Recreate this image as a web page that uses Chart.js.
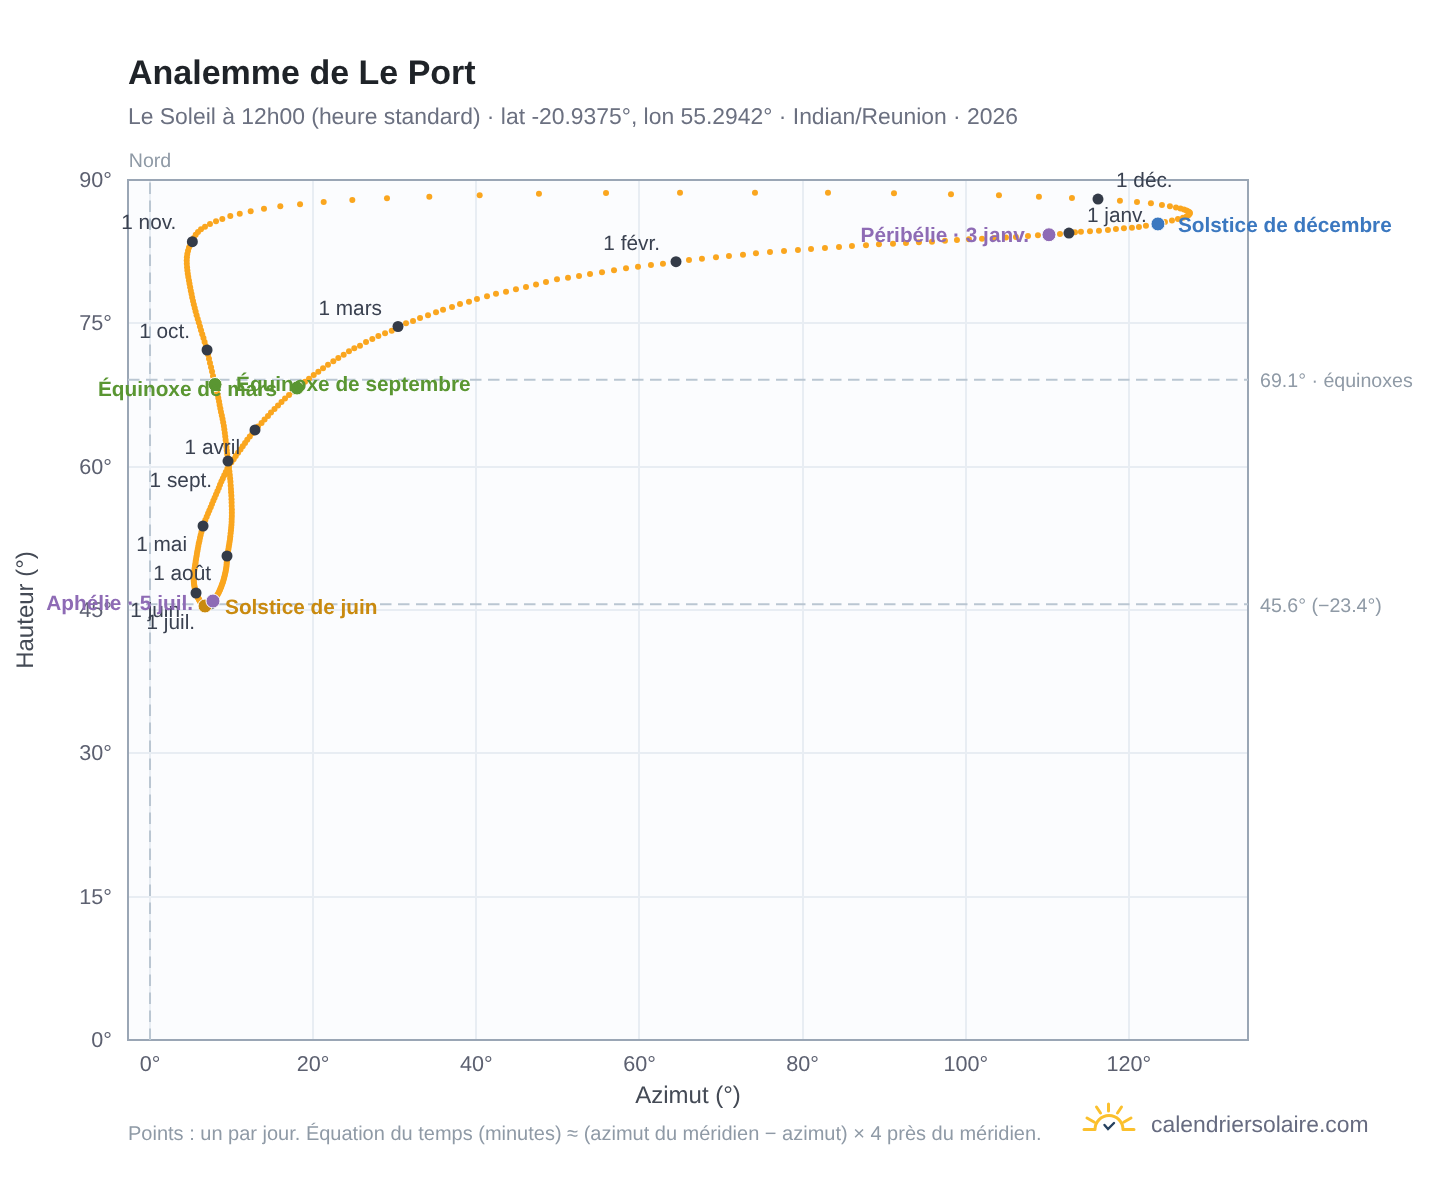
<!DOCTYPE html>
<html lang="fr">
<head>
<meta charset="utf-8">
<title>Analemme de Le Port</title>
<style>html,body{margin:0;padding:0;background:#fff}canvas{display:block}#wrap{width:1448px;height:1188px;position:relative}</style>
<script src="https://cdn.jsdelivr.net/npm/chart.js@4/dist/chart.umd.min.js"></script>
</head>
<body>
<div id="wrap"><canvas id="c" width="1448" height="1188"></canvas></div>
<script>
// Azimuth (deg), one value per day of 2026, Jan 1 to Dec 31
const azimuth = [
112.65,111.55,110.20,108.85,107.63,106.15,104.93,103.46,101.99,100.39,98.92,97.45,95.86,94.26,92.67,91.08,89.36,87.77,86.05,84.46,82.74,81.03,79.43,77.72,76.00,74.28,72.69,70.97,69.38,67.66,66.07,
64.48,62.88,61.41,59.82,58.35,56.88,55.41,53.94,52.59,51.24,49.89,48.54,47.32,46.09,44.86,43.64,42.41,41.31,40.08,39.10,38.00,37.02,35.92,35.06,34.08,33.10,32.24,31.38,
30.40,29.63,28.81,27.99,27.25,26.48,25.74,25.04,24.39,23.74,23.08,22.47,21.82,21.21,20.63,20.07,19.49,19.00,18.51,18.02,17.53,17.04,16.55,16.12,15.69,15.26,14.83,14.46,14.04,13.67,13.24,
12.87,12.54,12.23,11.92,11.65,11.36,11.09,10.79,10.51,10.25,9.97,9.68,9.48,9.29,9.10,8.92,8.75,8.58,8.43,8.26,8.09,7.92,7.76,7.60,7.44,7.27,7.11,6.95,6.78,6.62,
6.50,6.40,6.30,6.21,6.13,6.06,5.98,5.92,5.86,5.80,5.75,5.70,5.65,5.60,5.57,5.52,5.48,5.44,5.41,5.38,5.37,5.36,5.36,5.37,5.39,5.42,5.45,5.49,5.53,5.57,5.60,
5.64,5.69,5.74,5.79,5.83,5.88,5.93,5.98,6.03,6.08,6.13,6.18,6.24,6.30,6.36,6.42,6.48,6.55,6.61,6.67,6.74,6.82,6.89,6.96,7.04,7.11,7.18,7.26,7.33,7.40,
7.48,7.54,7.60,7.66,7.72,7.82,7.92,8.02,8.11,8.21,8.31,8.41,8.49,8.58,8.65,8.73,8.80,8.87,8.95,9.01,9.07,9.13,9.19,9.24,9.29,9.33,9.37,9.39,9.41,9.43,9.44,
9.44,9.50,9.56,9.61,9.66,9.71,9.76,9.81,9.84,9.88,9.92,9.95,9.98,10.00,10.01,10.03,10.03,10.03,10.01,10.00,9.99,9.97,9.94,9.92,9.89,9.86,9.82,9.78,9.73,9.68,9.62,
9.56,9.51,9.46,9.41,9.37,9.32,9.27,9.22,9.17,9.11,9.05,8.97,8.89,8.80,8.70,8.62,8.53,8.46,8.37,8.29,8.19,8.09,7.97,7.85,7.72,7.60,7.48,7.35,7.23,7.11,
6.99,6.84,6.69,6.55,6.40,6.25,6.12,5.98,5.85,5.71,5.59,5.48,5.37,5.27,5.17,5.09,5.00,4.92,4.84,4.77,4.69,4.63,4.58,4.54,4.51,4.50,4.52,4.57,4.66,4.78,4.95,
5.19,5.36,5.60,5.88,6.25,6.74,7.35,8.09,8.86,9.84,11.00,12.34,13.97,15.97,18.39,21.29,24.80,29.05,34.24,40.41,47.68,55.90,64.97,74.16,83.11,91.20,98.19,104.07,108.97,113.02,
116.21,118.90,120.99,122.70,124.05,125.03,125.77,126.32,126.75,127.06,127.28,127.42,127.48,127.43,127.30,127.06,126.63,126.01,125.28,124.42,123.56,122.09,121.23,120.37,119.39,118.41,117.43,116.33,115.23,114.12,113.39
];
// Altitude (deg), same days
const altitude = [
84.45,84.35,84.27,84.21,84.14,84.03,83.98,83.93,83.86,83.79,83.72,83.65,83.54,83.48,83.41,83.33,83.27,83.17,83.09,82.99,82.88,82.78,82.67,82.57,82.46,82.33,82.18,82.05,81.91,81.76,81.63,
81.45,81.24,81.10,80.93,80.76,80.55,80.34,80.16,79.95,79.77,79.61,79.32,79.06,78.80,78.57,78.31,78.10,77.83,77.55,77.26,77.02,76.71,76.43,76.15,75.84,75.56,75.24,75.00,
74.67,74.23,73.96,73.67,73.36,73.05,72.66,72.39,72.07,71.72,71.37,71.03,70.67,70.29,69.94,69.59,69.20,68.89,68.55,68.23,67.87,67.50,67.13,66.77,66.40,66.03,65.67,65.30,64.93,64.57,64.20,
63.84,63.49,63.16,62.81,62.48,62.14,61.80,61.46,61.12,60.78,60.45,60.11,59.78,59.44,59.11,58.77,58.44,58.10,57.77,57.43,57.10,56.76,56.43,56.09,55.76,55.42,55.09,54.75,54.42,54.10,
53.79,53.48,53.16,52.85,52.55,52.26,51.98,51.70,51.42,51.14,50.88,50.62,50.37,50.13,49.89,49.65,49.42,49.19,48.97,48.75,48.54,48.34,48.14,47.95,47.77,47.61,47.44,47.28,47.13,47.00,46.88,
46.78,46.67,46.57,46.47,46.38,46.30,46.21,46.13,46.06,45.98,45.91,45.85,45.78,45.73,45.68,45.63,45.59,45.54,45.50,45.46,45.42,45.42,45.42,45.43,45.44,45.46,45.49,45.52,45.56,45.61,
45.65,45.71,45.77,45.84,45.94,46.05,46.15,46.27,46.39,46.53,46.66,46.81,46.96,47.11,47.27,47.44,47.61,47.78,47.96,48.14,48.33,48.53,48.73,48.92,49.13,49.34,49.56,49.78,50.00,50.21,50.43,
50.65,50.89,51.13,51.38,51.64,51.91,52.18,52.45,52.73,53.02,53.31,53.60,53.90,54.21,54.52,54.84,55.18,55.53,55.88,56.24,56.59,56.96,57.32,57.67,58.04,58.41,58.76,59.13,59.49,59.86,60.22,
60.59,60.96,61.32,61.69,62.06,62.42,62.79,63.16,63.52,63.89,64.26,64.62,64.99,65.35,65.72,66.09,66.45,66.82,67.19,67.55,67.92,68.26,68.60,69.05,69.50,69.95,70.40,70.85,71.30,71.75,
72.21,72.63,73.05,73.46,73.87,74.28,74.68,75.08,75.46,75.85,76.23,76.60,76.97,77.34,77.70,78.07,78.42,78.78,79.14,79.49,79.85,80.19,80.54,80.88,81.23,81.58,81.92,82.26,82.59,82.93,83.23,
83.54,83.93,84.26,84.56,84.84,85.11,85.39,85.68,85.92,86.23,86.47,86.72,87.00,87.25,87.46,87.70,87.91,88.08,88.25,88.40,88.56,88.64,88.67,88.67,88.67,88.61,88.50,88.40,88.25,88.12,
88.01,87.83,87.70,87.56,87.38,87.25,87.12,87.02,86.91,86.81,86.70,86.62,86.55,86.44,86.31,86.19,86.06,85.92,85.76,85.60,85.40,85.22,85.08,85.01,84.94,84.87,84.77,84.69,84.63,84.59,84.52
];
const monthDays = [0,31,59,90,120,151,181,212,243,273,304,334];
const monthLabels = ["1 janv.","1 févr.","1 mars","1 avril","1 mai","1 juin","1 juil.","1 août","1 sept.","1 oct.","1 nov.","1 déc."];
const specialDays = [78,265,171,354,2,185];
const specialLabels = ["Équinoxe de mars","Équinoxe de septembre","Solstice de juin","Solstice de décembre","Péribélie · 3 janv.","Aphélie · 5 juil."];
const refAltitudes = [69.1,45.6];
const refLabels = ["69.1° · équinoxes","45.6° (−23.4°)"];
const xTickStep = 20, yTickStep = 15;

const X_MIN = -2.7, X_MAX = 134.6;
const COLORS = {sun:"#faa61f",dark:"#343b48",green:"#5a9632",blue:"#3b78c0",gold:"#c98a0f",purple:"#8e6bb5",
  grid:"#e8edf3",frame:"#9aa6b5",dash:"#bac6d2",plot:"#fbfcfe",tick:"#5c6070",label:"#3a4150",muted:"#8f9aa6"};
const specialColors = [COLORS.green,COLORS.green,COLORS.gold,COLORS.blue,COLORS.purple,COLORS.purple];
const FONT = '"Liberation Sans", Arial, sans-serif';
// label placement relative to its mark: [dx, dy, align]
const monthOffsets = [[18,-17,"left"],[-16,-17,"right"],[-16,-17,"right"],[-15,18,"right"],[-16,19,"right"],[-16,18,"right"],[-16,19,"right"],[-16,18,"right"],[-16,20,"right"],[-17,-18,"right"],[-16,-18,"right"],[18,-18,"left"]];
const specialOffsets = [[-20,2,"right"],[21,1,"left"],[20,2,"left"],[20,2,"left"],[-20,2,"right"],[-20,3,"right"]];

const pts = azimuth.map((a,i)=>({x:a,y:altitude[i]}));

const textPlugin = {
  id:"texts",
  beforeDraw(chart){
    const {ctx,chartArea:a} = chart;
    ctx.textRendering="geometricPrecision";
    ctx.save();ctx.fillStyle=COLORS.plot;ctx.fillRect(a.left,a.top,a.width,a.height);ctx.restore();
  },
  beforeDatasetsDraw(chart){
    const {ctx,chartArea:a} = chart;
    ctx.save();ctx.strokeStyle=COLORS.frame;ctx.lineWidth=2;ctx.strokeRect(a.left,a.top,a.width,a.height);ctx.restore();
  },
  afterDatasetsDraw(chart){
    const {ctx,scales:{x,y}} = chart;
    ctx.save();ctx.textBaseline="middle";
    monthDays.forEach((d,i)=>{
      const o=monthOffsets[i];
      ctx.font='20.8px '+FONT;ctx.fillStyle=COLORS.label;ctx.textAlign=o[2];
      ctx.fillText(monthLabels[i],x.getPixelForValue(azimuth[d])+o[0],y.getPixelForValue(altitude[d])+o[1]);
    });
    specialDays.forEach((d,i)=>{
      const o=specialOffsets[i];
      ctx.font='bold 20.8px '+FONT;ctx.fillStyle=specialColors[i];ctx.textAlign=o[2];
      ctx.fillText(specialLabels[i],x.getPixelForValue(azimuth[d])+o[0],y.getPixelForValue(altitude[d])+o[1]);
    });
    ctx.font='19.6px '+FONT;ctx.fillStyle=COLORS.muted;ctx.textAlign="left";
    refAltitudes.forEach((v,i)=>ctx.fillText(refLabels[i],1260,y.getPixelForValue(v)+2));
    ctx.textAlign="center";
    ctx.fillText("Nord",x.getPixelForValue(0),162);
    ctx.textAlign="left";
    ctx.font='20px '+FONT;
    ctx.fillText("Points : un par jour. Équation du temps (minutes) ≈ (azimut du méridien − azimut) × 4 près du méridien.",128,1134);
    ctx.font='22.9px '+FONT;ctx.fillStyle="#666b80";
    ctx.fillText("calendriersolaire.com",1151,1126);
    // logo
    ctx.lineCap="round";ctx.lineWidth=3;ctx.strokeStyle="#fbc02d";
    ctx.beginPath();
    ctx.moveTo(1084,1129.5);ctx.lineTo(1095,1129.5);
    ctx.moveTo(1124,1129.5);ctx.lineTo(1134,1129.5);
    ctx.moveTo(1095,1129.5);ctx.arc(1109,1129.5,14,Math.PI,2*Math.PI);
    ctx.moveTo(1108.5,1104);ctx.lineTo(1108.5,1111);
    ctx.moveTo(1096.5,1107);ctx.lineTo(1100.5,1113);
    ctx.moveTo(1121.5,1107);ctx.lineTo(1117.5,1113);
    ctx.moveTo(1087,1118);ctx.lineTo(1094,1122);
    ctx.moveTo(1131,1118);ctx.lineTo(1124,1122);
    ctx.stroke();
    ctx.strokeStyle="#26415f";ctx.lineWidth=2.4;
    ctx.beginPath();ctx.moveTo(1104.5,1125);ctx.lineTo(1108,1129);ctx.lineTo(1114,1123);ctx.stroke();
    ctx.restore();
  }
};

new Chart(document.getElementById("c"),{
  type:"scatter",
  data:{datasets:[
    {label:"Repère nord",data:[{x:0,y:0},{x:0,y:90}],showLine:true,borderColor:COLORS.dash,borderWidth:2,borderDash:[11.5,6.5],pointRadius:0,order:9},
    {label:"Équinoxes",data:[{x:X_MIN,y:refAltitudes[0]},{x:X_MAX,y:refAltitudes[0]}],showLine:true,borderColor:COLORS.dash,borderWidth:2,borderDash:[11.5,6.5],pointRadius:0,order:8},
    {label:"Solstice",data:[{x:X_MIN,y:refAltitudes[1]},{x:X_MAX,y:refAltitudes[1]}],showLine:true,borderColor:COLORS.dash,borderWidth:2,borderDash:[11.5,6.5],pointRadius:0,order:7},
    {label:"Analemme",data:pts,pointRadius:3,pointBackgroundColor:COLORS.sun,pointBorderWidth:0,clip:false,order:5},
    {label:"1er du mois",data:monthDays.map(d=>pts[d]),pointRadius:5.5,pointBackgroundColor:COLORS.dark,pointBorderWidth:0,clip:false,order:3},
    {label:"Repères",data:specialDays.map(d=>pts[d]),pointRadius:7,pointBackgroundColor:specialColors,pointBorderColor:"#ffffff",pointBorderWidth:1,clip:false,order:2}
  ]},
  plugins:[textPlugin],
  options:{
    responsive:false,animation:false,
    layout:{padding:{left:0,right:200,top:0,bottom:77}},
    plugins:{
      legend:{display:false},tooltip:{enabled:false},
      title:{display:true,text:"Analemme de Le Port",align:"start",fullSize:false,color:"#1f2328",font:{family:FONT,size:34,weight:"bold"},padding:{top:54,bottom:9}},
      subtitle:{display:true,text:"Le Soleil à 12h00 (heure standard) · lat -20.9375°, lon 55.2942° · Indian/Reunion · 2026",align:"start",fullSize:false,color:"#6b7080",font:{family:FONT,size:22.9},padding:{top:0,bottom:48.72}}
    },
    scales:{
      x:{type:"linear",min:X_MIN,max:X_MAX,
        afterFit(s){s.height=71;},
        border:{display:false},
        grid:{color:COLORS.grid,lineWidth:2,drawTicks:false},
        ticks:{stepSize:xTickStep,includeBounds:false,maxRotation:0,padding:12,color:COLORS.tick,font:{family:FONT,size:21.6},callback:v=>v+"°"},
        title:{display:true,text:"Azimut (°)",color:"#444a55",font:{family:FONT,size:24},padding:0}
      },
      y:{type:"linear",min:0,max:90,
        afterFit(s){s.width=128;},
        border:{display:false},
        grid:{color:COLORS.grid,lineWidth:2,drawTicks:false},
        ticks:{stepSize:yTickStep,includeBounds:false,labelOffset:1,padding:16,color:COLORS.tick,font:{family:FONT,size:21.6},callback:v=>v+"°"},
        title:{display:true,text:"Hauteur (°)",color:"#444a55",font:{family:FONT,size:24},padding:{top:12,bottom:0}}
      }
    }
  }
});
</script>
</body>
</html>
